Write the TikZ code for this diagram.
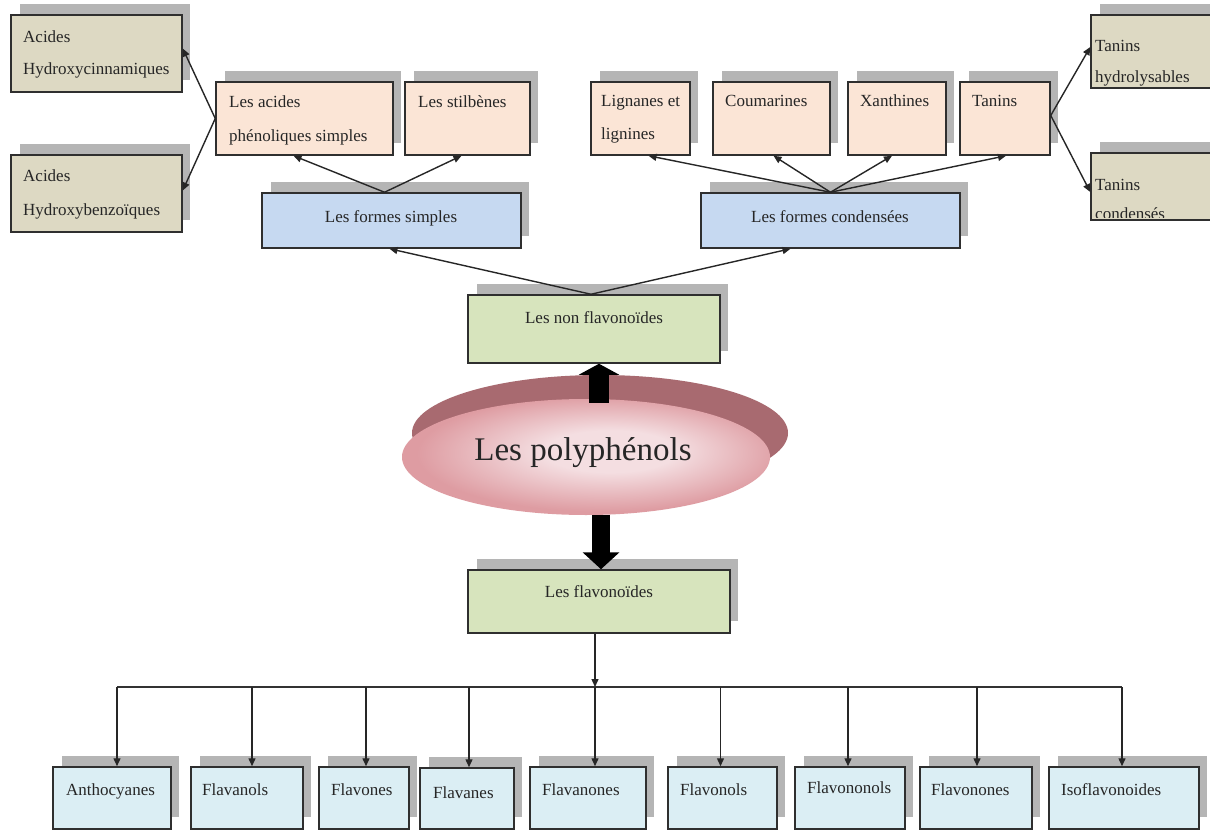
\documentclass[tikz,border=0pt]{standalone}
\usepackage{fontspec}
\setmainfont{Liberation Serif}
\usetikzlibrary{arrows.meta,calc,shapes.geometric}
\definecolor{tanfill}{HTML}{DDD9C3}
\definecolor{peach}{HTML}{FBE5D6}
\definecolor{bluebox}{HTML}{C6D9F1}
\definecolor{greenbox}{HTML}{D7E4BD}
\definecolor{cyanbox}{HTML}{DBEEF4}
\definecolor{shgray}{HTML}{B5B5B5}
\definecolor{edgecol}{HTML}{2F2F2F}
\definecolor{ellback}{HTML}{A86A70}
\definecolor{ellin}{HTML}{F4DEE1}
\definecolor{ellout}{HTML}{DE9CA2}
\pgfdeclareradialshading{polysh}{\pgfpoint{4bp}{3bp}}{color(0bp)=(ellin); color(9bp)=(ellin); color(25bp)=(ellout); color(50bp)=(ellout)}
\newcommand\mkbox[6]{%
  \fill[shgray] ({#2+9},{#3-11}) rectangle ({#4+8},{#5-12});
  \node[boxst,fill=#6,minimum width={(#4)-(#2)},minimum height={(#5)-(#3)}] (#1) at ({((#2)+(#4))/2},{((#3)+(#5))/2}) {};
}
\begin{document}
\begin{tikzpicture}[x=1pt,y=-1pt,
  boxst/.style={draw=edgecol,line width=1.5pt,rectangle,inner sep=0pt},
  txt/.style={font=\fontsize{17}{20}\selectfont,inner sep=0pt,anchor=base west,text=black!85},
  ctxt/.style={txt,anchor=base},
  arr/.style={draw=black!85,line width=1.4pt,-{Triangle[length=8pt,width=7pt]}},
  bigarr/.style={draw=black,line width=20pt,-{Triangle[length=11pt,width=40pt]}}]
\clip (0,0) rectangle (1210,832);
\fill[white] (0,0) rectangle (1210,832);
% top left
\mkbox{ahc}{11}{15}{182}{92}{tanfill}
\mkbox{ahb}{11}{155}{182}{232}{tanfill}
\mkbox{laps}{216}{82}{393}{155}{peach}
\mkbox{stil}{405}{82}{530}{155}{peach}
\mkbox{fs}{262}{193}{521}{248}{bluebox}
% top right
\mkbox{lig}{591}{82}{690}{155}{peach}
\mkbox{cou}{713}{82}{830}{155}{peach}
\mkbox{xan}{848}{82}{946}{155}{peach}
\mkbox{tanins}{960}{82}{1050}{155}{peach}
\mkbox{th}{1091}{15}{1225}{88}{tanfill}
\mkbox{tc}{1091}{153}{1225}{220}{tanfill}
\mkbox{fc}{701}{193}{960}{248}{bluebox}
% middle
\mkbox{nf}{468}{295}{720}{363}{greenbox}
\mkbox{flav}{468}{570}{730}{633}{greenbox}
% bottom
\mkbox{b1}{53}{767}{171}{829}{cyanbox}
\mkbox{b2}{191}{767}{303}{829}{cyanbox}
\mkbox{b3}{319}{767}{409}{829}{cyanbox}
\mkbox{b4}{420}{768}{514}{829}{cyanbox}
\mkbox{b5}{530}{767}{646}{829}{cyanbox}
\mkbox{b6}{668}{767}{777}{829}{cyanbox}
\mkbox{b7}{795}{767}{905}{829}{cyanbox}
\mkbox{b8}{920}{767}{1032}{829}{cyanbox}
\mkbox{b9}{1049}{767}{1199}{829}{cyanbox}
% texts
\node[txt] (t1a) at (23,43) {Acides};
\node[txt] (t1b) at (23,75) {Hydroxycinnamiques};
\node[txt] (t2a) at (23,182) {Acides};
\node[txt] (t2b) at (23,215) {Hydroxybenzoïques};
\node[txt] (t3a) at (229,108) {Les acides};
\node[txt] (t3b) at (229,142) {phénoliques simples};
\node[txt] (t4) at (418,108) {Les stilbènes};
\node[ctxt] (t5) at (391,222) {Les formes simples};
\node[txt] (t6a) at (601,107) {Lignanes et};
\node[txt] (t6b) at (601,140) {lignines};
\node[txt] (t7) at (725,107) {Coumarines};
\node[txt] (t8) at (860,107) {Xanthines};
\node[txt] (t9) at (972,107) {Tanins};
\node[txt] (t10a) at (1095,52) {Tanins};
\node[txt] (t10b) at (1095,83) {hydrolysables};
\node[txt] (t11a) at (1095,190) {Tanins};
\begin{scope}
\clip (1092,153) rectangle (1225,217);
\node[txt] (t11b) at (1095,219) {condensés};
\end{scope}
\node[ctxt] (t12) at (830,222) {Les formes condensées};
\node[ctxt] (t13) at (594,323) {Les non flavonoïdes};
\node[ctxt] (t14) at (599,597) {Les flavonoïdes};
\node[txt] (t15) at (66,795) {Anthocyanes};
\node[txt] (t16) at (202,795) {Flavanols};
\node[txt] (t17) at (331,795) {Flavones};
\node[txt] (t18) at (433,798) {Flavanes};
\node[txt] (t19) at (542,795) {Flavanones};
\node[txt] (t20) at (680,795) {Flavonols};
\node[txt] (t21) at (807,793) {Flavononols};
\node[txt] (t22) at (931,795) {Flavonones};
\node[txt] (t23) at (1061,795) {Isoflavonoides};
% ellipse
\fill[ellback] (600,433) ellipse [x radius=188, y radius=58];
\node[ellipse,minimum width=368,minimum height=116,inner sep=0pt,shading=polysh] (poly) at (586,457) {};
\node[font=\fontsize{33}{36}\selectfont,inner sep=0pt,anchor=base,text=black!85] (polyt) at (583,460) {Les polyphénols};
% big arrows
\draw[bigarr] ([xshift=13pt,yshift=-4pt]poly.north) -- ([xshift=5pt]nf.south);
\draw[line width=18pt,draw=black,-{Triangle[length=17pt,width=36pt]}] ([xshift=15pt]poly.south) -- ([xshift=2pt]flav.north);
% thin arrows top
\draw[arr] ([xshift=-3pt]nf.north) -- ([xshift=-2pt]fs.south);
\draw[arr] ([xshift=-3pt]nf.north) -- ([xshift=-40pt]fc.south);
\draw[arr] ([xshift=-7pt]fs.north) -- ([xshift=-11pt]laps.south);
\draw[arr] ([xshift=-7pt]fs.north) -- ([xshift=-6pt]stil.south);
\draw[arr] (laps.west) -- ([yshift=5pt]ahc.east);
\draw[arr] (laps.west) -- ([yshift=3pt]ahb.east);
\draw[arr] (fc.north) -- ([xshift=8pt]lig.south);
\draw[arr] (fc.north) -- ([xshift=2pt]cou.south);
\draw[arr] (fc.north) -- ([xshift=-5pt]xan.south);
\draw[arr] (fc.north) -- ([xshift=1pt]tanins.south);
\draw[arr] ([yshift=3pt]tanins.east) -- (th.west |- 0,47);
\draw[arr] ([yshift=3pt]tanins.east) -- (th.west |- 0,192);
% bottom tree
\coordinate (busL) at (117,687);
\coordinate (busR) at (1122,687);
\draw[draw=black!80,line width=1.5pt] (busL) -- (busR);
\draw[arr] ([xshift=-4pt]flav.south) -- ([xshift=-4pt]flav.south |- busL);
\draw[arr] ([xshift=5pt]b1.north |- busL) -- ([xshift=5pt]b1.north);
\draw[arr] ([xshift=5pt]b2.north |- busL) -- ([xshift=5pt]b2.north);
\draw[arr] ([xshift=2pt]b3.north |- busL) -- ([xshift=2pt]b3.north);
\draw[arr] ([xshift=2pt]b4.north |- busL) -- ([xshift=2pt]b4.north);
\draw[arr] ([xshift=7pt]b5.north |- busL) -- ([xshift=7pt]b5.north);
\draw[arr] ([xshift=-2pt]b6.north |- busL) -- ([xshift=-2pt]b6.north);
\draw[arr] ([xshift=-2pt]b7.north |- busL) -- ([xshift=-2pt]b7.north);
\draw[arr] ([xshift=1pt]b8.north |- busL) -- ([xshift=1pt]b8.north);
\draw[arr] ([xshift=-2pt]b9.north |- busL) -- ([xshift=-2pt]b9.north);
\end{tikzpicture}
\end{document}
